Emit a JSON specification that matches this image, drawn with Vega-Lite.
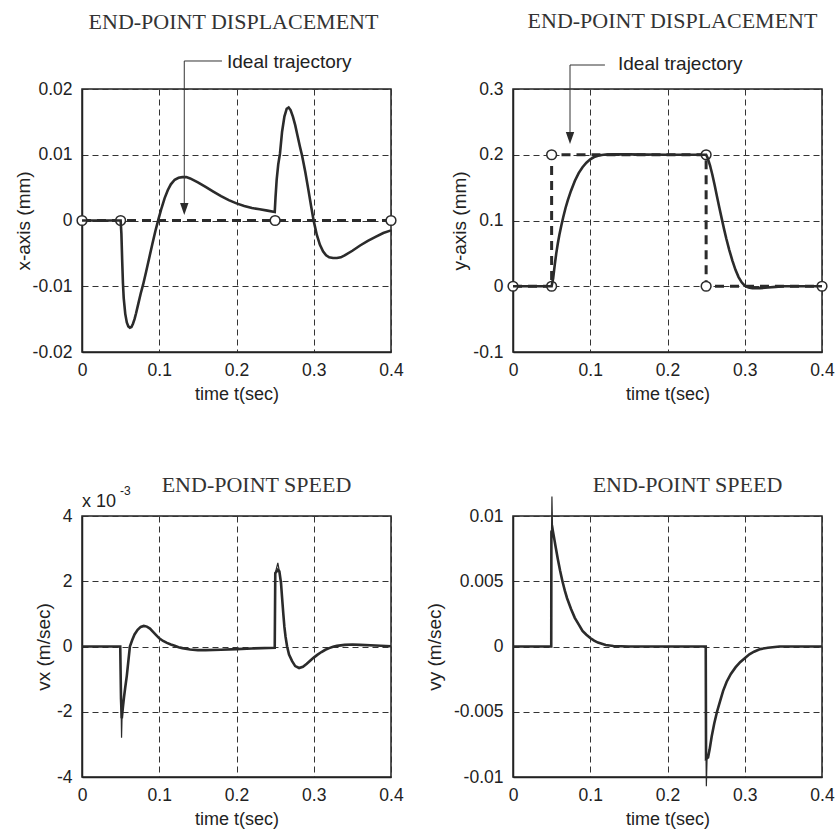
{
  "$schema": "https://vega.github.io/schema/vega-lite/v6.json",
  "autosize": {"type": "pad"},
  "padding": {"left": 13, "top": 9, "right": 10, "bottom": 10},
  "background": "white",
  "bounds": "flush",
  "columns": 2,
  "spacing": {"row": 164, "column": 122},
  "config": {
    "locale": {"number": {"decimal": ".", "thousands": ",", "grouping": [3], "currency": ["$", ""], "minus": "-"}},
    "view": {"stroke": "#222", "strokeWidth": 1.5},
    "title": {"font": "Liberation Serif", "fontSize": 22, "fontWeight": "normal", "color": "#333", "anchor": "middle", "baseline": "alphabetic"},
    "axis": {"labelFont": "Liberation Sans", "labelFontSize": 17.5, "labelColor": "#222", "titleFont": "Liberation Sans", "titleFontSize": 19, "titleFontWeight": "normal", "titleColor": "#222", "domainColor": "#222", "domainWidth": 1.5, "ticks": false, "labelPadding": 10, "gridColor": "#333", "gridDash": [6, 4], "gridWidth": 1, "gridOpacity": 1, "format": "~g", "labelFlush": false, "labelOverlap": false},
    "axisX": {"titlePadding": 7, "labelPadding": 9, "titleFontSize": 18},
    "axisY": {"titleBaseline": "middle"}
  },
  "datasets": {
    "xIdeal": [{"t": 0, "v": 0}, {"t": 0.4, "v": 0}],
    "xCirc": [{"t": 0, "v": 0}, {"t": 0.05, "v": 0}, {"t": 0.25, "v": 0}, {"t": 0.4, "v": 0}],
    "xAct": [{"t":0,"v":0},{"t":0.05,"v":0},{"t":0.051,"v":-0.002},{"t":0.052,"v":-0.006},{"t":0.053,"v":-0.0095},{"t":0.054,"v":-0.0118},{"t":0.056,"v":-0.0142},{"t":0.058,"v":-0.0155},{"t":0.06,"v":-0.0161},{"t":0.062,"v":-0.0163},{"t":0.064,"v":-0.0162},{"t":0.066,"v":-0.0157},{"t":0.068,"v":-0.015},{"t":0.07,"v":-0.0141},{"t":0.073,"v":-0.0126},{"t":0.076,"v":-0.0111},{"t":0.079,"v":-0.0098},{"t":0.083,"v":-0.0078},{"t":0.087,"v":-0.0057},{"t":0.091,"v":-0.0036},{"t":0.095,"v":-0.0016},{"t":0.099,"v":0.0002},{"t":0.103,"v":0.0019},{"t":0.107,"v":0.0034},{"t":0.111,"v":0.0046},{"t":0.115,"v":0.0055},{"t":0.12,"v":0.0062},{"t":0.125,"v":0.0065},{"t":0.13,"v":0.0066},{"t":0.135,"v":0.0066},{"t":0.14,"v":0.0064},{"t":0.15,"v":0.0058},{"t":0.16,"v":0.0051},{"t":0.17,"v":0.0044},{"t":0.18,"v":0.0037},{"t":0.19,"v":0.0031},{"t":0.2,"v":0.0026},{"t":0.21,"v":0.0022},{"t":0.22,"v":0.0019},{"t":0.23,"v":0.0017},{"t":0.24,"v":0.0015},{"t":0.2495,"v":0.0013},{"t":0.2505,"v":0.0035},{"t":0.252,"v":0.0062},{"t":0.254,"v":0.0085},{"t":0.2563,"v":0.0102},{"t":0.259,"v":0.0135},{"t":0.262,"v":0.0158},{"t":0.265,"v":0.017},{"t":0.2675,"v":0.0172},{"t":0.27,"v":0.0168},{"t":0.273,"v":0.0158},{"t":0.276,"v":0.0145},{"t":0.279,"v":0.0129},{"t":0.282,"v":0.0113},{"t":0.285,"v":0.0098},{"t":0.289,"v":0.0074},{"t":0.293,"v":0.0047},{"t":0.297,"v":0.0019},{"t":0.3,"v":-0.0001},{"t":0.304,"v":-0.0022},{"t":0.308,"v":-0.0037},{"t":0.312,"v":-0.0047},{"t":0.316,"v":-0.0053},{"t":0.32,"v":-0.0056},{"t":0.325,"v":-0.0057},{"t":0.33,"v":-0.0057},{"t":0.335,"v":-0.0056},{"t":0.34,"v":-0.0053},{"t":0.35,"v":-0.0046},{"t":0.36,"v":-0.0038},{"t":0.37,"v":-0.0031},{"t":0.38,"v":-0.0025},{"t":0.39,"v":-0.0019},{"t":0.4,"v":-0.0015}],
    "xArrow": [{"i": 0, "t": 0.1812, "v": 0.02426}, {"i": 1, "t": 0.1324, "v": 0.02426}, {"i": 2, "t": 0.1324, "v": 0.00266}],
    "xTip": [{"t": 0.1324, "v": 0.00175}],
    "xLabel": [{"t": 0.1877, "v": 0.0241, "label": "Ideal trajectory"}],
    "yIdeal": [{"i": 0, "t": 0, "v": 0}, {"i": 1, "t": 0.05, "v": 0}, {"i": 2, "t": 0.05, "v": 0.2}, {"i": 3, "t": 0.25, "v": 0.2}, {"i": 4, "t": 0.25, "v": 0}, {"i": 5, "t": 0.4, "v": 0}],
    "yAct": [{"t":0,"v":0},{"t":0.05,"v":0},{"t":0.052,"v":0.012},{"t":0.054,"v":0.032},{"t":0.056,"v":0.05},{"t":0.058,"v":0.065},{"t":0.06,"v":0.078},{"t":0.0625,"v":0.092},{"t":0.065,"v":0.105},{"t":0.068,"v":0.119},{"t":0.071,"v":0.131},{"t":0.075,"v":0.145},{"t":0.08,"v":0.16},{"t":0.085,"v":0.172},{"t":0.09,"v":0.181},{"t":0.095,"v":0.188},{"t":0.1,"v":0.193},{"t":0.105,"v":0.1965},{"t":0.11,"v":0.1985},{"t":0.115,"v":0.1997},{"t":0.12,"v":0.2003},{"t":0.13,"v":0.2008},{"t":0.15,"v":0.2005},{"t":0.2,"v":0.2},{"t":0.25,"v":0.2},{"t":0.252,"v":0.195},{"t":0.255,"v":0.184},{"t":0.258,"v":0.17},{"t":0.261,"v":0.154},{"t":0.264,"v":0.137},{"t":0.267,"v":0.12},{"t":0.27,"v":0.104},{"t":0.273,"v":0.088},{"t":0.276,"v":0.073},{"t":0.28,"v":0.055},{"t":0.284,"v":0.039},{"t":0.288,"v":0.025},{"t":0.292,"v":0.014},{"t":0.296,"v":0.006},{"t":0.3,"v":0.001},{"t":0.305,"v":-0.002},{"t":0.31,"v":-0.003},{"t":0.32,"v":-0.003},{"t":0.33,"v":-0.002},{"t":0.34,"v":-0.001},{"t":0.35,"v":0},{"t":0.4,"v":0}],
    "yArrow": [{"i": 0, "t": 0.119, "v": 0.3365}, {"i": 1, "t": 0.0738, "v": 0.3365}, {"i": 2, "t": 0.0738, "v": 0.2346}],
    "yTip": [{"t": 0.0738, "v": 0.2255}],
    "yLabel": [{"t": 0.1359, "v": 0.338, "label": "Ideal trajectory"}],
    "vxAct": [{"t":0,"v":0},{"t":0.0495,"v":0},{"t":0.0505,"v":-1.6},{"t":0.0515,"v":-2.2},{"t":0.053,"v":-1.85},{"t":0.0544,"v":-1.55},{"t":0.056,"v":-1.25},{"t":0.058,"v":-0.9},{"t":0.06,"v":-0.45},{"t":0.062,"v":0.0},{"t":0.065,"v":0.2},{"t":0.068,"v":0.37},{"t":0.072,"v":0.51},{"t":0.076,"v":0.6},{"t":0.08,"v":0.63},{"t":0.084,"v":0.61},{"t":0.088,"v":0.55},{"t":0.092,"v":0.45},{"t":0.096,"v":0.35},{"t":0.1,"v":0.25},{"t":0.105,"v":0.17},{"t":0.11,"v":0.11},{"t":0.115,"v":0.06},{"t":0.12,"v":0.02},{"t":0.125,"v":-0.02},{"t":0.13,"v":-0.05},{"t":0.14,"v":-0.09},{"t":0.15,"v":-0.11},{"t":0.16,"v":-0.11},{"t":0.18,"v":-0.1},{"t":0.2,"v":-0.08},{"t":0.22,"v":-0.06},{"t":0.2495,"v":-0.04},{"t":0.2502,"v":2.25},{"t":0.2535,"v":2.35},{"t":0.2555,"v":2.3},{"t":0.2576,"v":1.95},{"t":0.259,"v":1.5},{"t":0.2606,"v":1.0},{"t":0.262,"v":0.6},{"t":0.2635,"v":0.3},{"t":0.2655,"v":0.0},{"t":0.268,"v":-0.25},{"t":0.272,"v":-0.45},{"t":0.276,"v":-0.6},{"t":0.281,"v":-0.66},{"t":0.286,"v":-0.62},{"t":0.291,"v":-0.53},{"t":0.296,"v":-0.42},{"t":0.3,"v":-0.34},{"t":0.305,"v":-0.25},{"t":0.31,"v":-0.17},{"t":0.315,"v":-0.1},{"t":0.32,"v":-0.05},{"t":0.325,"v":-0.01},{"t":0.33,"v":0.02},{"t":0.34,"v":0.05},{"t":0.35,"v":0.06},{"t":0.36,"v":0.05},{"t":0.38,"v":0.03},{"t":0.4,"v":0.01}],
    "vxSpike": [{"s": "a", "t": 0.0505, "v": -1.6}, {"s": "a", "t": 0.0512, "v": -2.8}, {"s": "a", "t": 0.052, "v": -2.0}, {"s": "b", "t": 0.2502, "v": 2.25}, {"s": "b", "t": 0.2535, "v": 2.56}, {"s": "b", "t": 0.2555, "v": 2.3}],
    "vxNote": [{"t": 0, "v": 4}],
    "vyAct": [{"t":0,"v":0},{"t":0.0495,"v":0},{"t":0.0497,"v":0.0088},{"t":0.0512,"v":0.009},{"t":0.053,"v":0.0084},{"t":0.055,"v":0.0077},{"t":0.058,"v":0.0067},{"t":0.061,"v":0.0058},{"t":0.064,"v":0.005},{"t":0.067,"v":0.0043},{"t":0.07,"v":0.0037},{"t":0.075,"v":0.0029},{"t":0.08,"v":0.0022},{"t":0.085,"v":0.0017},{"t":0.09,"v":0.0012},{"t":0.095,"v":0.0009},{"t":0.1,"v":0.00065},{"t":0.105,"v":0.00045},{"t":0.11,"v":0.0003},{"t":0.12,"v":0.00012},{"t":0.13,"v":0.00004},{"t":0.15,"v":0},{"t":0.2495,"v":0},{"t":0.2499,"v":-0.0086},{"t":0.2525,"v":-0.0085},{"t":0.2545,"v":-0.0079},{"t":0.2572,"v":-0.0069},{"t":0.2605,"v":-0.0059},{"t":0.2641,"v":-0.005},{"t":0.268,"v":-0.0042},{"t":0.272,"v":-0.0034},{"t":0.2766,"v":-0.0027},{"t":0.282,"v":-0.0021},{"t":0.288,"v":-0.0016},{"t":0.294,"v":-0.0012},{"t":0.3,"v":-0.0009},{"t":0.306,"v":-0.0006},{"t":0.312,"v":-0.0004},{"t":0.32,"v":-0.0002},{"t":0.33,"v":-0.0001},{"t":0.345,"v":0},{"t":0.4,"v":0}],
    "vySpike": [{"s": "a", "t": 0.0499, "v": 0.009}, {"s": "a", "t": 0.0504, "v": 0.0115}, {"s": "a", "t": 0.0512, "v": 0.009}, {"s": "b", "t": 0.2499, "v": -0.0086}, {"s": "b", "t": 0.2503, "v": -0.0107}, {"s": "b", "t": 0.2512, "v": -0.0086}]
  },
  "concat": [
    {
      "width": 309, "height": 263,
      "title": {"text": "END-POINT DISPLACEMENT", "offset": 19, "dx": -3},
      "encoding": {
        "x": {"field": "t", "type": "quantitative", "scale": {"domain": [0, 0.4], "nice": false, "zero": false}, "axis": {"values": [0, 0.1, 0.2, 0.3, 0.4], "title": "time t(sec)"}},
        "y": {"field": "v", "type": "quantitative", "scale": {"domain": [-0.02, 0.02], "nice": false, "zero": false}, "axis": {"values": [-0.02, -0.01, 0, 0.01, 0.02], "title": "x-axis (mm)", "titleX": -59}}
      },
      "layer": [
        {"data": {"name": "xIdeal"}, "mark": {"type": "line", "strokeDash": [9, 6], "strokeWidth": 3, "color": "#2b2b2b"}},
        {"data": {"name": "xCirc"}, "mark": {"type": "point", "shape": "circle", "filled": true, "fill": "white", "fillOpacity": 1, "stroke": "#2b2b2b", "strokeWidth": 1.5, "strokeOpacity": 1, "size": 95}},
        {"data": {"name": "xAct"}, "mark": {"type": "line", "strokeWidth": 2.6, "color": "#2b2b2b"}},
        {"data": {"name": "xArrow"}, "mark": {"type": "line", "strokeWidth": 1, "color": "#333"}, "encoding": {"order": {"field": "i"}}},
        {"data": {"name": "xTip"}, "mark": {"type": "point", "shape": "M-0.7,-1L0.7,-1L0,1Z", "filled": true, "color": "#2b2b2b", "opacity": 1, "size": 144}},
        {"data": {"name": "xLabel"}, "mark": {"type": "text", "align": "left", "baseline": "middle", "font": "Liberation Sans", "fontSize": 19, "color": "#222"}, "encoding": {"text": {"field": "label"}}}
      ]
    },
    {
      "width": 309, "height": 263,
      "title": {"text": "END-POINT DISPLACEMENT", "offset": 22, "dx": 5},
      "encoding": {
        "x": {"field": "t", "type": "quantitative", "scale": {"domain": [0, 0.4], "nice": false, "zero": false}, "axis": {"values": [0, 0.1, 0.2, 0.3, 0.4], "title": "time t(sec)"}},
        "y": {"field": "v", "type": "quantitative", "scale": {"domain": [-0.1, 0.3], "nice": false, "zero": false}, "axis": {"values": [-0.1, 0, 0.1, 0.2, 0.3], "title": "y-axis (mm)", "titleX": -54}}
      },
      "layer": [
        {"data": {"name": "yIdeal"}, "mark": {"type": "line", "strokeDash": [9, 6], "strokeWidth": 3, "color": "#2b2b2b"}, "encoding": {"order": {"field": "i"}}},
        {"data": {"name": "yIdeal"}, "mark": {"type": "point", "shape": "circle", "filled": true, "fill": "white", "fillOpacity": 1, "stroke": "#2b2b2b", "strokeWidth": 1.5, "strokeOpacity": 1, "size": 95}},
        {"data": {"name": "yAct"}, "mark": {"type": "line", "strokeWidth": 2.6, "color": "#2b2b2b"}},
        {"data": {"name": "yArrow"}, "mark": {"type": "line", "strokeWidth": 1, "color": "#333"}, "encoding": {"order": {"field": "i"}}},
        {"data": {"name": "yTip"}, "mark": {"type": "point", "shape": "M-0.7,-1L0.7,-1L0,1Z", "filled": true, "color": "#2b2b2b", "opacity": 1, "size": 144}},
        {"data": {"name": "yLabel"}, "mark": {"type": "text", "align": "left", "baseline": "middle", "font": "Liberation Sans", "fontSize": 19, "color": "#222"}, "encoding": {"text": {"field": "label"}}}
      ]
    },
    {
      "width": 309, "height": 261,
      "title": {"text": "END-POINT SPEED", "offset": -12, "dx": 20},
      "encoding": {
        "x": {"field": "t", "type": "quantitative", "scale": {"domain": [0, 0.4], "nice": false, "zero": false}, "axis": {"values": [0, 0.1, 0.2, 0.3, 0.4], "title": "time t(sec)"}},
        "y": {"field": "v", "type": "quantitative", "scale": {"domain": [-4, 4], "nice": false, "zero": false}, "axis": {"values": [-4, -2, 0, 2, 4], "title": "vx (m/sec)", "titleX": -39}}
      },
      "layer": [
        {"data": {"name": "vxAct"}, "mark": {"type": "line", "strokeWidth": 2.6, "color": "#2b2b2b"}},
        {"data": {"name": "vxSpike"}, "mark": {"type": "line", "strokeWidth": 1.2, "color": "#2b2b2b"}, "encoding": {"detail": {"field": "s"}}},
        {"data": {"name": "vxNote"}, "mark": {"type": "text", "text": "x 10", "align": "left", "baseline": "alphabetic", "dy": -9, "font": "Liberation Sans", "fontSize": 18, "color": "#222"}},
        {"data": {"name": "vxNote"}, "mark": {"type": "text", "text": "-3", "align": "left", "baseline": "alphabetic", "dx": 38, "dy": -21, "font": "Liberation Sans", "fontSize": 12, "color": "#222"}}
      ]
    },
    {
      "width": 309, "height": 261,
      "title": {"text": "END-POINT SPEED", "offset": -3, "dx": 20},
      "encoding": {
        "x": {"field": "t", "type": "quantitative", "scale": {"domain": [0, 0.4], "nice": false, "zero": false}, "axis": {"values": [0, 0.1, 0.2, 0.3, 0.4], "title": "time t(sec)"}},
        "y": {"field": "v", "type": "quantitative", "scale": {"domain": [-0.01, 0.01], "nice": false, "zero": false}, "axis": {"values": [-0.01, -0.005, 0, 0.005, 0.01], "title": "vy (m/sec)", "titleX": -79}}
      },
      "layer": [
        {"data": {"name": "vyAct"}, "mark": {"type": "line", "strokeWidth": 2.6, "color": "#2b2b2b"}},
        {"data": {"name": "vySpike"}, "mark": {"type": "line", "strokeWidth": 1.2, "color": "#2b2b2b"}, "encoding": {"detail": {"field": "s"}}}
      ]
    }
  ]
}
